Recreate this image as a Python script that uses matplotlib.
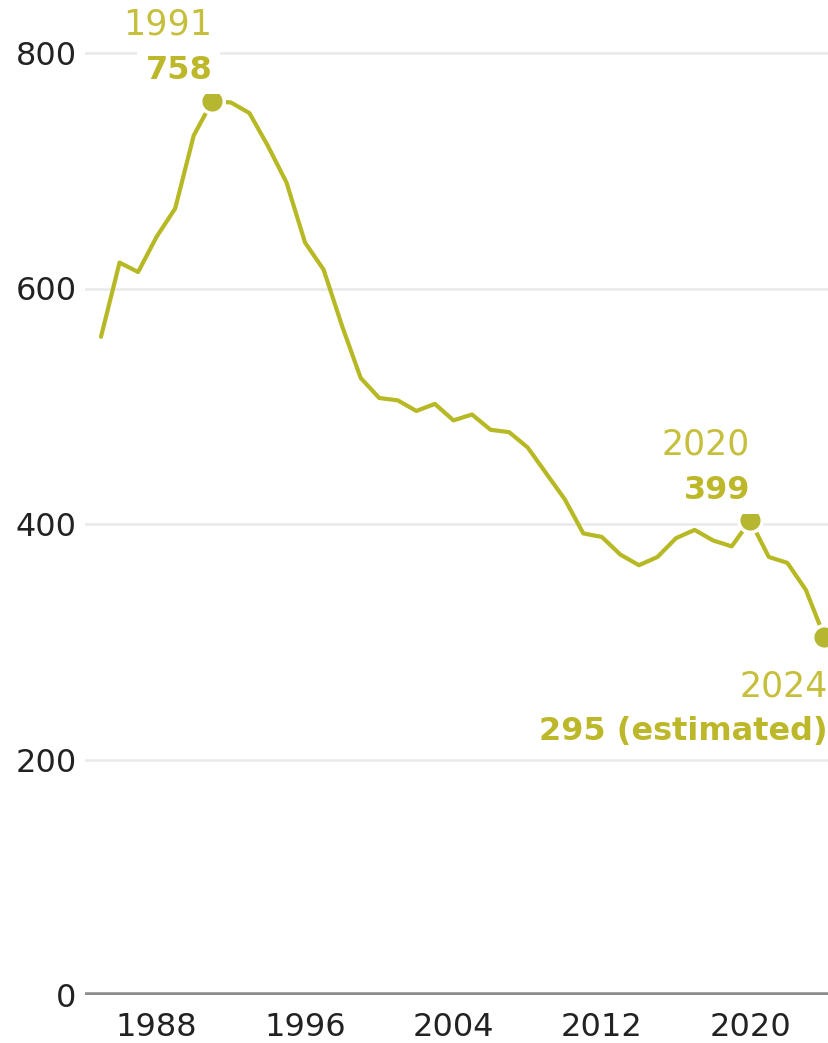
import matplotlib
matplotlib.use("Agg")
import matplotlib.pyplot as plt

# Données
years = list(range(1985, 2025))
values = [559, 622, 614, 644, 668, 730, 759, 758, 749, 721,
          690, 639, 616, 568, 524, 507, 505, 496, 502, 488,
          493, 480, 478, 465, 443, 421, 392, 389, 374, 365,
          372, 388, 395, 386, 381, 403, 372, 367, 344, 304]

hl_years = [1991, 2020, 2024]
hl_top = ["1991", "2020", "2024"]
hl_bottom = ["758", "399", "295 (estimated)"]

y_ticks = [0, 200, 400, 600, 800]
x_ticks = [1988, 1996, 2004, 2012, 2020]

line_col = "#b6b824"
dot_col = "#b7b630"
lbl_col = "#c6bf3c"
val_col = "#bdb72a"

plt.rcParams['font.family'] = ['DejaVu Sans']

fig = plt.figure(figsize=(8.29, 10.43), dpi=100)
ax = fig.add_axes([85 / 829, 48 / 1043, 744 / 829, 995 / 1043])

ax.set_xlim(1985 - 16 / 18.55, 1985 + 728 / 18.55)
ax.set_ylim(0, 995 / 1.1775)

for s in ax.spines.values():
    s.set_visible(False)

# grille
for t in y_ticks[1:]:
    ax.axhline(t, color="#e9e9e9", lw=1.8, zorder=0)
ax.axhline(0, color="#8c8c8c", lw=4, zorder=1, solid_capstyle="butt")

ax.plot(years, values, color=line_col, lw=3, zorder=3,
        solid_joinstyle="round", solid_capstyle="round")

hx = [years.index(y) for y in hl_years]
ax.plot([years[i] for i in hx], [values[i] for i in hx], "o", ms=17,
        color=dot_col, mec="white", mew=2.5, zorder=4, clip_on=False)

# étiquettes
offs = [(77, 31), (76, 30), (-49, -94)]
for i, (top, bot, (o1, o2)) in zip(hx, zip(hl_top, hl_bottom, offs)):
    x, y = years[i], values[i]
    dx = 0 if years[i] != 2024 else 3
    ax.annotate(top, (x, y), xytext=(dx, o1), textcoords="offset pixels",
                ha="right", va="center", fontsize=25, color=lbl_col, zorder=5,
                bbox=dict(boxstyle="square,pad=0.25", fc="white", ec="none"))
    ax.annotate(bot, (x, y), xytext=(dx, o2), textcoords="offset pixels",
                ha="right", va="center", fontsize=23, fontweight="bold",
                color=val_col, zorder=5,
                bbox=dict(boxstyle="square,pad=0.25", fc="white", ec="none"))

ax.set_yticks(y_ticks)
ax.set_yticklabels([str(t) for t in y_ticks])
ax.set_xticks(x_ticks)
ax.set_xticklabels([str(t) for t in x_ticks])
ax.tick_params(axis="both", length=0, labelsize=23, labelcolor="#222222")
ax.tick_params(axis="y", pad=6)
ax.tick_params(axis="x", pad=12)

fig.savefig("out.png", dpi=100)
